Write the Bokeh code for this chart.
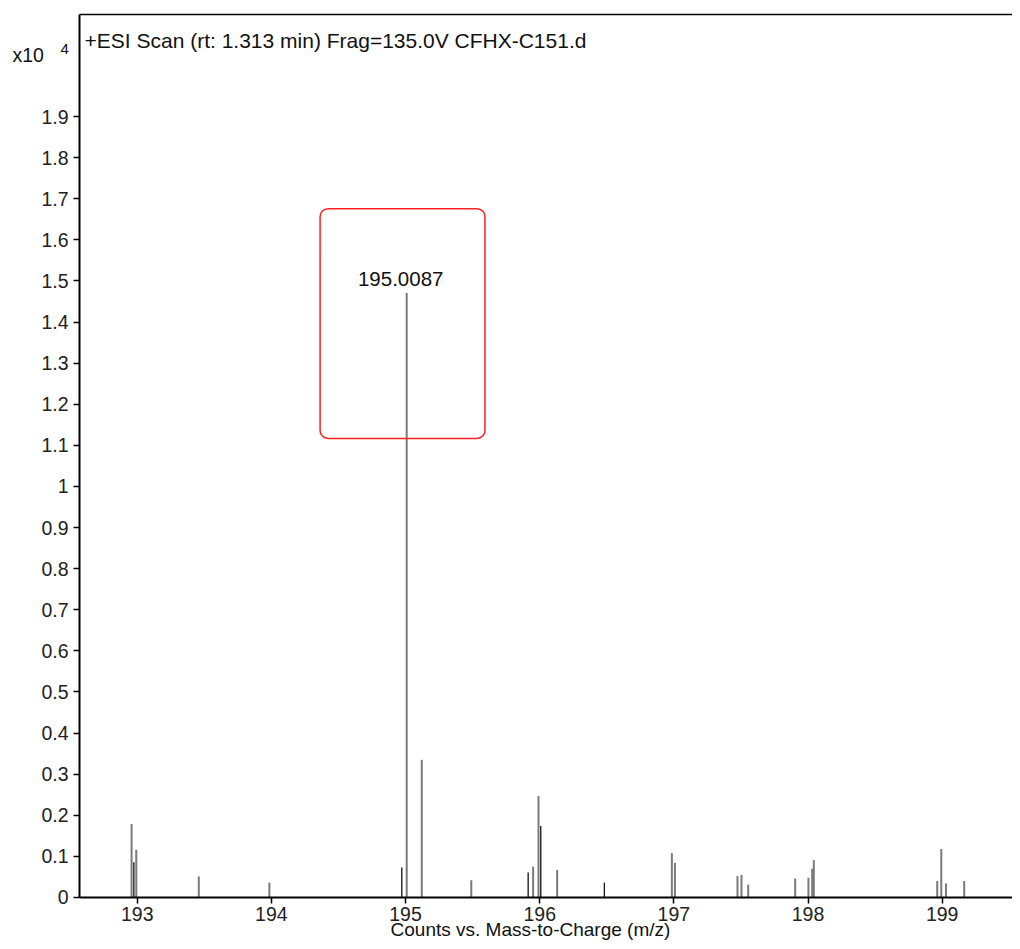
from bokeh.plotting import figure
from bokeh.models import (Range1d, FixedTicker, LinearAxis, Label, BoxAnnotation,
                          CustomJSTickFormatter, ColumnDataSource)
from bokeh.embed import file_html
from bokeh.resources import INLINE

# ---- data (m/z, counts x10^4) ----
gray_mz = [192.958, 192.993, 193.459, 193.985, 195.0087, 195.121, 195.490,
           195.951, 195.991, 196.130, 196.985, 197.008, 197.474, 197.504,
           197.554, 197.904, 198.003, 198.031, 198.043, 198.963, 198.993,
           199.028, 199.164]
gray_counts = [0.179, 0.116, 0.051, 0.036, 1.471, 0.335, 0.042,
               0.075, 0.247, 0.067, 0.108, 0.084, 0.052, 0.055,
               0.031, 0.046, 0.048, 0.070, 0.091, 0.040, 0.118,
               0.034, 0.040]
dark_mz = [192.975, 194.972, 195.914, 196.008, 196.482]
dark_counts = [0.086, 0.073, 0.061, 0.174, 0.036]

x_ticks = [193, 194, 195, 196, 197, 198, 199]
y_ticks = [round(i * 0.1, 1) for i in range(0, 20)]

title_text = "+ESI Scan (rt: 1.313 min) Frag=135.0V CFHX-C151.d"
peak_label = "195.0087"
x_label = "Counts vs. Mass-to-Charge (m/z)"

FONT = "Liberation Sans"
# visible axes extent
X0, X1 = 192.570, 199.524
Y0, Y1 = 0.0, 2.148
# whole-canvas data window (axes are placed at fixed locations inside it)
XC0, XC1 = 191.981, 199.524
YC0, YC1 = -0.1071, 2.1825

p = figure(width=1012, height=941, output_backend="svg", toolbar_location=None,
           x_range=Range1d(XC0, XC1), y_range=Range1d(YC0, YC1),
           x_axis_location=None, y_axis_location=None,
           min_border=0, min_border_left=0, min_border_right=0,
           min_border_top=0, min_border_bottom=0)
p.background_fill_color = "white"
p.border_fill_color = "white"
p.outline_line_color = None
p.grid.visible = False

src_g = ColumnDataSource(dict(x=gray_mz, top=gray_counts, bottom=[0] * len(gray_mz)))
src_d = ColumnDataSource(dict(x=dark_mz, top=dark_counts, bottom=[0] * len(dark_mz)))
p.segment(x0="x", y0="bottom", x1="x", y1="top", source=src_g,
          line_color="#7a7a7a", line_width=2)
p.segment(x0="x", y0="bottom", x1="x", y1="top", source=src_d,
          line_color="#111111", line_width=1.3)


def style_axis(ax, standoff):
    ax.axis_line_color = "black"
    ax.axis_line_width = 2
    ax.major_tick_line_color = "black"
    ax.major_tick_line_width = 1.5
    ax.major_tick_out = 6
    ax.major_tick_in = 0
    ax.minor_tick_line_color = None
    ax.major_label_text_font = FONT
    ax.major_label_text_font_size = "19.5px"
    ax.major_label_text_color = "#222222"
    ax.major_label_standoff = standoff


xaxis = LinearAxis(ticker=FixedTicker(ticks=x_ticks), fixed_location=Y0,
                   bounds=(X0, X1))
style_axis(xaxis, 4)
p.add_layout(xaxis, "below")

yaxis = LinearAxis(ticker=FixedTicker(ticks=y_ticks), fixed_location=X0,
                   bounds=(Y0, Y1),
                   formatter=CustomJSTickFormatter(
                       code="return tick.toFixed(1).replace(/\\.0$/, '');"))
style_axis(yaxis, 5)
p.add_layout(yaxis, "left")

top_axis = LinearAxis(ticker=FixedTicker(ticks=[]), fixed_location=Y1,
                      bounds=(X0, X1), major_tick_line_color=None,
                      minor_tick_line_color=None, major_label_text_font_size="0px",
                      axis_line_width=1.5, axis_line_color="black")
p.add_layout(top_axis, "above")

# texts
p.add_layout(Label(x=X0, y=Y1, x_offset=5, y_offset=-26, text=title_text,
                   text_font=FONT, text_font_size="21px", text_color="#111111",
                   text_baseline="middle", text_align="left"))
p.add_layout(Label(x=X0, y=Y1, x_offset=-67, y_offset=-40, text="x10",
                   text_font=FONT, text_font_size="19.5px", text_color="#111111",
                   text_baseline="middle", text_align="left"))
p.add_layout(Label(x=X0, y=Y1, x_offset=-19, y_offset=-34, text="4",
                   text_font=FONT, text_font_size="15px", text_color="#111111",
                   text_baseline="middle", text_align="left"))
p.add_layout(Label(x=195.0087, y=1.471, x_offset=-6, y_offset=14, text=peak_label,
                   text_font=FONT, text_font_size="20.5px", text_color="#111111",
                   text_baseline="middle", text_align="center"))
p.add_layout(Label(x=195.931, y=Y0, y_offset=-32.5, text=x_label,
                   text_font=FONT, text_font_size="19px", text_color="#111111",
                   text_baseline="middle", text_align="center"))

# red highlight box
p.add_layout(BoxAnnotation(left=194.363, right=195.592, bottom=1.117, top=1.676,
                           fill_color=None, line_color="#ff2020", line_alpha=1.0,
                           line_width=1.5, border_radius=8))

open("out.html", "w").write(file_html(p, INLINE))
